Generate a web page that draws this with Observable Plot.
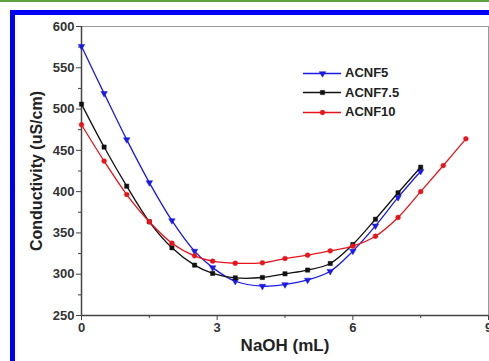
<!DOCTYPE html>
<html>
<head>
<meta charset="utf-8">
<script src="https://cdn.jsdelivr.net/npm/d3@7"></script>
<script src="https://cdn.jsdelivr.net/npm/@observablehq/plot@0.6"></script>
<style>
  body { margin: 0; background: #fff; }
  #wrap { position: relative; width: 489px; height: 361px; overflow: hidden; background: #fff; font-family: "Liberation Sans", Arial, sans-serif; }
  .deco { position: absolute; }
  #legend { position: absolute; left: 303px; top: 63px; font-weight: bold; font-size: 13px; color: #222; }
  #legend .row { display: flex; align-items: center; height: 19.5px; }
  #legend svg { margin-right: 4px; }
</style>
</head>
<body>
<div id="wrap"></div>
<script>
const series = ["ACNF5", "ACNF7.5", "ACNF10"];
const colors = ["#1a1ae6", "#111111", "#e8141b"];
const symbols = ["triangle", "square", "circle"];
const xs = [0, 0.5, 1, 1.5, 2, 2.5, 2.9, 3.4, 4, 4.5, 5, 5.5, 6, 6.5, 7, 7.5];
const xsRed = [0, 0.5, 1, 1.5, 2, 2.5, 2.9, 3.4, 4, 4.5, 5, 5.5, 6, 6.5, 7, 7.5, 8, 8.5];
const acnf5 = [576, 519, 463, 411, 365, 328, 308, 291.5, 285.5, 287.5, 293, 303.6, 328, 358.6, 393, 424.7];
const acnf75 = [506, 454, 406.6, 363.5, 332, 311, 301, 295.6, 296, 300.5, 305, 313, 336, 366.6, 398.6, 429.6];
const acnf10 = [481, 437, 396.5, 363.5, 337.6, 322.3, 315.8, 313.3, 313.8, 319, 323, 328.3, 334, 346, 368.7, 400, 431.6, 464];
const xMajor = [0, 3, 6, 9];
const xMinor = [1.5, 4.5, 7.5];
const yMajor = [250, 300, 350, 400, 450, 500, 550, 600];
const yMinor = [275, 325, 375, 425, 475, 525, 575];

const xsets = [xs, xs, xsRed];
const ysets = [acnf5, acnf75, acnf10];
const data = [];
series.forEach((s, i) => xsets[i].forEach((x, j) => data.push({series: s, x, y: ysets[i][j]})));

const lineMarks = [];
series.forEach((s, i) => {
  const d = data.filter(r => r.series === s);
  lineMarks.push(Plot.line(d, {x: "x", y: "y", stroke: colors[i], strokeWidth: 1.3, curve: "catmull-rom"}));
  lineMarks.push(Plot.dot(d, {x: "x", y: "y", fill: colors[i], stroke: colors[i], strokeWidth: 0.5, symbol: symbols[i], r: 2.4, rotate: i === 0 ? 180 : 0}));
});

const chart = Plot.plot({
  width: 489,
  height: 361,
  marginLeft: 81,
  marginTop: 26,
  marginRight: 1,
  marginBottom: 46,
  style: {fontFamily: "Liberation Sans, Arial, sans-serif", background: "transparent", overflow: "visible"},
  x: {domain: [0, 9]},
  y: {domain: [250, 600]},
  marks: [
    Plot.frame({stroke: "#9a9a9a", strokeWidth: 1}),
    Plot.ruleX([0], {stroke: "#444", strokeWidth: 1.5}),
    Plot.ruleY([250], {stroke: "#444", strokeWidth: 1.5}),
    Plot.axisX({ticks: xMajor, tickSize: 5, tickPadding: 2, fontSize: 13, fontWeight: "bold", fill: "#333", stroke: "#444", label: null, tickFormat: d => String(d)}),
    Plot.axisX({ticks: xMinor, tickSize: 3, stroke: "#444", label: null, tickFormat: () => ""}),
    Plot.axisY({ticks: yMajor, tickSize: 5, tickPadding: 2, fontSize: 13, fontWeight: "bold", fill: "#333", stroke: "#444", label: null, tickFormat: d => String(d)}),
    Plot.axisY({ticks: yMinor, tickSize: 3, stroke: "#444", label: null, tickFormat: () => ""}),
    ...lineMarks,
    Plot.text(["Conductivity (uS/cm)"], {frameAnchor: "left", dx: -45, rotate: -90, textAnchor: "middle", lineAnchor: "middle", fontSize: 16, fontWeight: "bold", fill: "#222"}),
    Plot.text(["NaOH (mL)"], {frameAnchor: "bottom", dy: 30, textAnchor: "middle", lineAnchor: "middle", fontSize: 17, fontWeight: "bold", fill: "#222"})
  ]
});

const wrap = document.getElementById("wrap");
wrap.appendChild(chart);

function deco(css) {
  const d = document.createElement("div");
  d.className = "deco";
  Object.assign(d.style, css);
  wrap.appendChild(d);
}
deco({left: "0px", top: "0px", width: "489px", height: "2px", background: "#5da040"});
deco({left: "10px", top: "10px", width: "479px", height: "5px", background: "#0000f5"});
deco({left: "10px", top: "10px", width: "5px", height: "351px", background: "#0000f5"});

const legend = document.createElement("div");
legend.id = "legend";
series.forEach((s, i) => {
  const row = document.createElement("div");
  row.className = "row";
  const sym = Plot.plot({
    width: 38, height: 10, margin: 0,
    x: {domain: [0, 1], axis: null}, y: {domain: [0, 1], axis: null},
    style: {background: "transparent", overflow: "visible"},
    marks: [
      Plot.ruleY([0.5], {stroke: colors[i], strokeWidth: 1.3}),
      Plot.dot([{x: 0.5, y: 0.5}], {x: "x", y: "y", fill: colors[i], stroke: colors[i], strokeWidth: 0.5, symbol: symbols[i], r: 2.4, rotate: i === 0 ? 180 : 0})
    ]
  });
  row.appendChild(sym);
  const t = document.createElement("span");
  t.textContent = s;
  row.appendChild(t);
  legend.appendChild(row);
});
wrap.appendChild(legend);
</script>
</body>
</html>
